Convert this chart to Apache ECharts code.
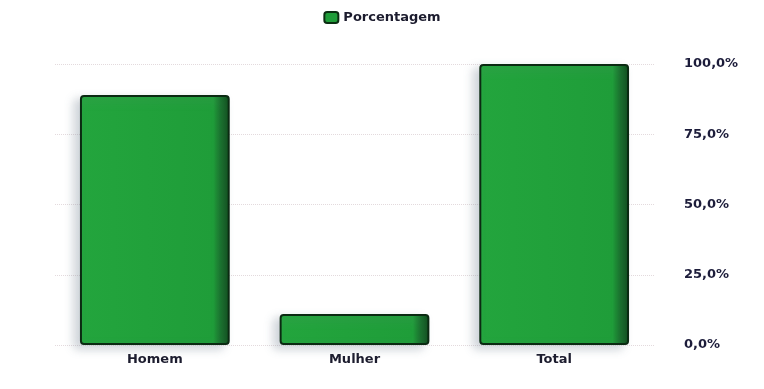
<!DOCTYPE html>
<html>
<head>
<meta charset="utf-8">
<script src="https://cdn.jsdelivr.net/npm/echarts@6/dist/echarts.min.js"></script>
<style>
  html, body { margin: 0; padding: 0; background: #ffffff; }
  #chart { width: 764px; height: 389px; }
</style>
</head>
<body>
<div id="chart"></div>
<script>
// Share of respondents by group
const categories = ['Homem', 'Mulher', 'Total'];
const seriesName = 'Porcentagem';
const values = [89, 11, 100];
const yTicks = [0, 25, 50, 75, 100];

const fmt = v => v.toFixed(1).replace('.', ',') + '%';

const barFill = new echarts.graphic.LinearGradient(0, 0, 1, 0, [
  { offset: 0, color: '#23a53d' },
  { offset: 0.89, color: '#1f9d39' },
  { offset: 0.94, color: '#16702a' },
  { offset: 1, color: '#0e4a1b' }
]);

const chart = echarts.init(document.getElementById('chart'));
chart.setOption({
  animation: false,
  backgroundColor: '#ffffff',
  textStyle: { fontFamily: 'DejaVu Sans' },
  legend: {
    top: 6,
    left: 'center',
    itemWidth: 14,
    itemHeight: 11,
    itemGap: 8,
    textStyle: { fontSize: 13, color: '#1c1c2e', fontWeight: 'bold' },
    data: [{ name: seriesName, itemStyle: { color: '#1f9d39', borderColor: '#0b2e12', borderWidth: 2 } }]
  },
  grid: { left: 55, right: 110, top: 64, bottom: 44 },
  xAxis: {
    type: 'category',
    data: categories,
    axisLine: { show: false },
    axisTick: { show: false },
    axisLabel: { margin: 8, fontSize: 13, fontWeight: 'bold', color: '#1c1c2e' }
  },
  yAxis: {
    type: 'value',
    position: 'right',
    min: yTicks[0],
    max: yTicks[yTicks.length - 1],
    interval: yTicks[1] - yTicks[0],
    axisLine: { show: false },
    axisTick: { show: false },
    axisLabel: {
      margin: 30,
      fontSize: 13,
      fontWeight: 'bold',
      color: '#1c1c3a',
      formatter: v => fmt(v)
    },
    splitLine: { lineStyle: { type: 'dotted', color: '#e3dadd', width: 1 } }
  },
  series: [{
    name: seriesName,
    type: 'bar',
    data: values,
    barWidth: '75%',
    itemStyle: {
      color: barFill,
      borderColor: '#0b2a12',
      borderWidth: 2,
      borderRadius: 3,
      shadowColor: 'rgba(120,135,150,0.35)',
      shadowBlur: 10,
      shadowOffsetX: -6,
      shadowOffsetY: 4
    }
  }]
});
</script>
</body>
</html>
